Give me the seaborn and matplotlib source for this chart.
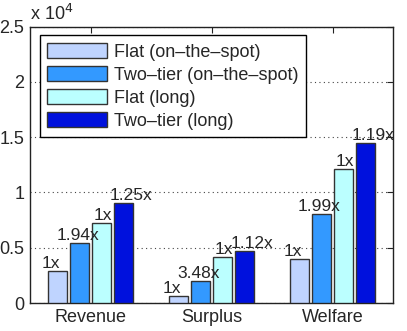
import matplotlib
matplotlib.use("Agg")
import matplotlib.pyplot as plt
from matplotlib.ticker import FixedLocator, FuncFormatter
import seaborn as sns
import pandas as pd

categories = ["Revenue", "Surplus", "Welfare"]
series = ["Flat (on\u2013the\u2013spot)", "Two\u2013tier (on\u2013the\u2013spot)",
          "Flat (long)", "Two\u2013tier (long)"]
flat_spot = [2850, 600, 4020]
two_tier_spot = [5460, 2020, 8020]
flat_long = [7260, 4200, 12130]
two_tier_long = [9060, 4710, 14470]
ratio_labels = [["1x", "1.94x", "1x", "1.25x"],
                ["1x", "3.48x", "1x", "1.12x"],
                ["1x", "1.99x", "1x", "1.19x"]]
yticks = [0, 5000, 10000, 15000, 20000, 25000]

colors = ["#BFD4FF", "#3399FF", "#BBFFFF", "#0011DD"]

rows = []
for s, vals in zip(series, [flat_spot, two_tier_spot, flat_long, two_tier_long]):
    for c, v in zip(categories, vals):
        rows.append({"cat": c, "series": s, "value": v})
df = pd.DataFrame(rows)

sns.set_style("white")
plt.rcParams["font.family"] = ["Liberation Sans", "DejaVu Sans"]
plt.rcParams["font.size"] = 13

fig = plt.figure(figsize=(4.07, 3.31), dpi=100)
ax = fig.add_axes([30 / 407, 28 / 331, 363 / 407, 276.5 / 331])

sns.barplot(data=df, x="cat", y="value", hue="series", order=categories,
            hue_order=series, palette=colors, saturation=1, width=0.727, gap=0.18,
            edgecolor="#333333", linewidth=1.0, ax=ax, zorder=3, legend=True)

ax.set_xlim(-0.5, 2.5)
ax.set_ylim(0, 25000)
ax.yaxis.set_major_locator(FixedLocator(yticks))
ax.yaxis.set_major_formatter(FuncFormatter(lambda v, p: ("%g" % (v / 1e4))))
ax.set_xlabel("")
ax.set_ylabel("")
ax.grid(axis="y", linestyle=(0, (1, 3)), color="#444444", linewidth=0.8, zorder=0)
ax.grid(axis="x", visible=False)
ax.set_axisbelow(True)
for sp in ax.spines.values():
    sp.set_color("#222222")
    sp.set_linewidth(1.0)
ax.tick_params(direction="in", length=4, width=0.8, color="#222222",
               top=True, right=True, labelsize=13, pad=4)

# bar labels
offsets = [-7, -2, 1, 8]
for si, cont in enumerate(ax.containers):
    for ci, bar in enumerate(cont):
        x = bar.get_x() + bar.get_width() / 2
        y = bar.get_height()
        ax.annotate(ratio_labels[ci][si], (x, y), xytext=(offsets[si], 0),
                    textcoords="offset pixels", ha="center", va="bottom",
                    fontsize=12.5, zorder=5)

leg = ax.legend(loc="upper left", bbox_to_anchor=(0.027, 0.968), frameon=True,
                fancybox=False, edgecolor="black", framealpha=1,
                handlelength=3.3, handleheight=0.95, handletextpad=0.4,
                labelspacing=0.28, borderpad=0.4, fontsize=13, borderaxespad=0)
leg.get_frame().set_linewidth(1.0)

fig.text(30 / 407, 1 - 20 / 331, "x 10$^4$", fontsize=13, ha="left", va="baseline")

fig.savefig("out.png", dpi=100)
